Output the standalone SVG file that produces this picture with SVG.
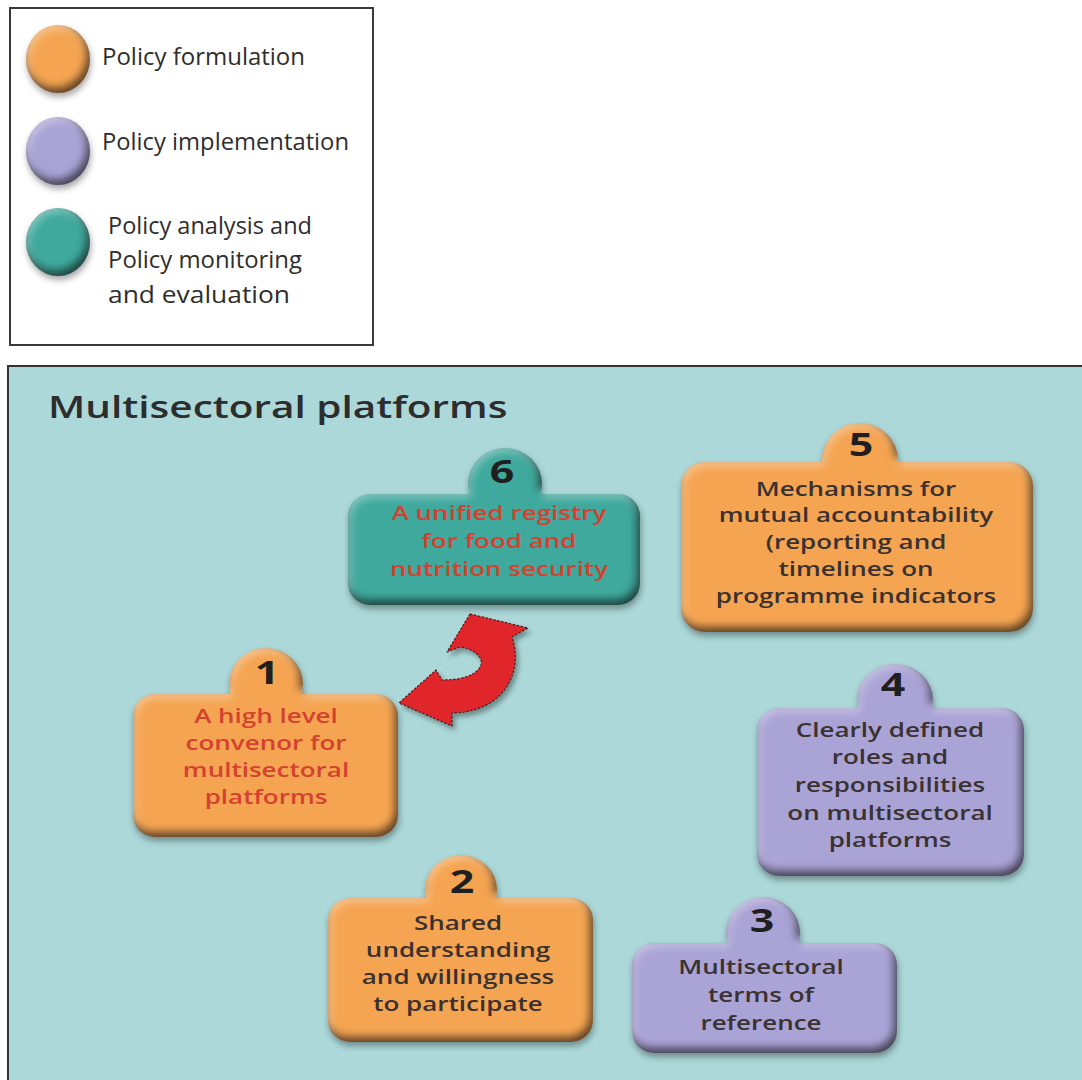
<svg xmlns="http://www.w3.org/2000/svg" width="1082" height="1080" viewBox="0 0 1082 1080">
  <defs>
    <style>
      .legend-text { font-family: "Open Sans", "Liberation Sans", sans-serif; font-size: 24px; font-weight: 500; fill: #2e2e2e; }
      .title { font-family: "Open Sans", "Liberation Sans", sans-serif; font-size: 30px; font-weight: 600; fill: #2d2d2d; }
      .num { font-family: "Open Sans", "Liberation Sans", sans-serif; font-size: 33px; font-weight: 700; fill: #1f1f1f; text-anchor: middle; }
      .lbl { font-family: "Open Sans", "Liberation Sans", sans-serif; font-size: 20px; font-weight: 600; fill: #3a3131; text-anchor: middle; }
      .lbl.red { fill: #d4412f; }
      .orange { fill: #f5a552; }
      .purple { fill: #aaa3d6; }
      .teal { fill: #3fa99d; }
    </style>
    <!-- soft 3D bevel: dark inner rim bottom/right, light rim top/left, drop shadow -->
    <filter id="bevel" x="-15%" y="-20%" width="135%" height="145%" color-interpolation-filters="sRGB">
      <feComponentTransfer in="SourceAlpha" result="inv">
        <feFuncA type="table" tableValues="1 0"/>
      </feComponentTransfer>
      <feGaussianBlur in="inv" stdDeviation="4" result="invBlur"/>
      <feOffset in="invBlur" dx="-3" dy="-5" result="shOff"/>
      <feFlood flood-color="#000000" flood-opacity="0.62" result="shCol"/>
      <feComposite in="shCol" in2="shOff" operator="in" result="sh"/>
      <feComposite in="sh" in2="SourceAlpha" operator="in" result="innerSh"/>
      <feOffset in="invBlur" dx="2" dy="3" result="hlOff"/>
      <feFlood flood-color="#ffffff" flood-opacity="0.45" result="hlCol"/>
      <feComposite in="hlCol" in2="hlOff" operator="in" result="hl"/>
      <feComposite in="hl" in2="SourceAlpha" operator="in" result="innerHl"/>
      <feGaussianBlur in="SourceAlpha" stdDeviation="3" result="dsBlur"/>
      <feOffset in="dsBlur" dx="1" dy="4" result="dsOff"/>
      <feFlood flood-color="#000000" flood-opacity="0.35" result="dsCol"/>
      <feComposite in="dsCol" in2="dsOff" operator="in" result="ds"/>
      <feMerge>
        <feMergeNode in="ds"/>
        <feMergeNode in="SourceGraphic"/>
        <feMergeNode in="innerHl"/>
        <feMergeNode in="innerSh"/>
      </feMerge>
    </filter>
    <filter id="arrowShadow" x="-20%" y="-20%" width="150%" height="150%">
      <feGaussianBlur in="SourceAlpha" stdDeviation="2.5" result="b"/>
      <feOffset in="b" dx="3" dy="4" result="o"/>
      <feFlood flood-color="#000000" flood-opacity="0.35"/>
      <feComposite in2="o" operator="in" result="s"/>
      <feMerge><feMergeNode in="s"/><feMergeNode in="SourceGraphic"/></feMerge>
    </filter>
  </defs>

  <rect width="1082" height="1080" fill="#ffffff"/>

  <!-- legend -->
  <g id="legend">
    <rect x="10" y="8" width="363" height="337" fill="#ffffff" stroke="#3a3a3a" stroke-width="2"/>
    <g filter="url(#bevel)">
      <ellipse class="orange" cx="58" cy="59" rx="32" ry="34"/>
      <ellipse class="purple" cx="58" cy="151" rx="32" ry="34"/>
      <ellipse class="teal" cx="58" cy="242" rx="32" ry="34"/>
    </g>
    <text class="legend-text" x="102" y="65" textLength="203" lengthAdjust="spacingAndGlyphs">Policy formulation</text>
    <text class="legend-text" x="102" y="150" textLength="247" lengthAdjust="spacingAndGlyphs">Policy implementation</text>
    <text class="legend-text" x="108" y="234" textLength="204" lengthAdjust="spacingAndGlyphs">Policy analysis and</text>
    <text class="legend-text" x="108" y="268" textLength="194" lengthAdjust="spacingAndGlyphs">Policy monitoring</text>
    <text class="legend-text" x="108" y="303" textLength="182" lengthAdjust="spacingAndGlyphs">and evaluation</text>
  </g>

  <!-- main panel -->
  <rect x="8" y="366" width="1090" height="730" fill="#acd8d9" stroke="#333333" stroke-width="2"/>
  <text class="title" transform="translate(48 418) scale(1.35 1)">Multisectoral platforms</text>

  <!-- connectors -->
  <g id="connectors">
    <path id="arrow-1-6" filter="url(#arrowShadow)" fill="#e0272a" stroke="#4a1e1e" stroke-width="1.2" stroke-dasharray="2.5 1.5" stroke-linejoin="round"
          d="M 470 614 L 528 628 L 512 637 C 520 660 514 688 490 703 C 478 710 465 713 452 713 L 452 726 L 399 703 L 436 670 L 442 680 C 460 680 477 676 481 665 C 484 656 471 648 460 647 L 447 652 Z"/>
  </g>

  <!-- node 6 -->
  <g id="node-6">
    <g filter="url(#bevel)" class="teal">
      <rect x="348" y="494" width="292" height="111" rx="22"/>
      <ellipse cx="505" cy="484" rx="37" ry="36"/>
    </g>
    <g transform="translate(502 0) scale(1.3 1)">
      <text class="num" x="0" y="483">6</text>
    </g>
    <g transform="translate(499 0) scale(1.3 1)">
      <text class="lbl red" x="0" y="520">A unified registry</text>
      <text class="lbl red" x="0" y="548">for food and</text>
      <text class="lbl red" x="0" y="576">nutrition security</text>
    </g>
  </g>

  <!-- node 5 -->
  <g id="node-5">
    <g filter="url(#bevel)" class="orange">
      <rect x="681" y="462" width="352" height="170" rx="24"/>
      <ellipse cx="860" cy="460" rx="38" ry="37"/>
    </g>
    <g transform="translate(861 0) scale(1.3 1)">
      <text class="num" x="0" y="456">5</text>
    </g>
    <g transform="translate(856 0) scale(1.3 1)">
      <text class="lbl" x="0" y="496">Mechanisms for</text>
      <text class="lbl" x="0" y="522">mutual accountability</text>
      <text class="lbl" x="0" y="549">(reporting and</text>
      <text class="lbl" x="0" y="576">timelines on</text>
      <text class="lbl" x="0" y="603">programme indicators</text>
    </g>
  </g>

  <!-- node 1 -->
  <g id="node-1">
    <g filter="url(#bevel)" class="orange">
      <rect x="133" y="694" width="265" height="143" rx="22"/>
      <ellipse cx="266" cy="684" rx="37" ry="36"/>
    </g>
    <g transform="translate(267 0) scale(1.3 1)">
      <text class="num" x="0" y="684">1</text>
    </g>
    <g transform="translate(266 0) scale(1.3 1)">
      <text class="lbl red" x="0" y="723">A high level</text>
      <text class="lbl red" x="0" y="750">convenor for</text>
      <text class="lbl red" x="0" y="777">multisectoral</text>
      <text class="lbl red" x="0" y="804">platforms</text>
    </g>
  </g>

  <!-- node 4 -->
  <g id="node-4">
    <g filter="url(#bevel)" class="purple">
      <rect x="757" y="708" width="267" height="168" rx="22"/>
      <ellipse cx="895" cy="700" rx="38" ry="36"/>
    </g>
    <g transform="translate(893 0) scale(1.3 1)">
      <text class="num" x="0" y="696">4</text>
    </g>
    <g transform="translate(890 0) scale(1.3 1)">
      <text class="lbl" x="0" y="737">Clearly defined</text>
      <text class="lbl" x="0" y="764">roles and</text>
      <text class="lbl" x="0" y="792">responsibilities</text>
      <text class="lbl" x="0" y="820">on multisectoral</text>
      <text class="lbl" x="0" y="847">platforms</text>
    </g>
  </g>

  <!-- node 2 -->
  <g id="node-2">
    <g filter="url(#bevel)" class="orange">
      <rect x="328" y="898" width="265" height="144" rx="22"/>
      <ellipse cx="461" cy="890" rx="36" ry="35"/>
    </g>
    <g transform="translate(462 0) scale(1.3 1)">
      <text class="num" x="0" y="893">2</text>
    </g>
    <g transform="translate(458 0) scale(1.3 1)">
      <text class="lbl" x="0" y="930">Shared</text>
      <text class="lbl" x="0" y="957">understanding</text>
      <text class="lbl" x="0" y="984">and willingness</text>
      <text class="lbl" x="0" y="1011">to participate</text>
    </g>
  </g>

  <!-- node 3 -->
  <g id="node-3">
    <g filter="url(#bevel)" class="purple">
      <rect x="632" y="943" width="265" height="110" rx="22"/>
      <ellipse cx="763" cy="933" rx="37" ry="36"/>
    </g>
    <g transform="translate(762 0) scale(1.3 1)">
      <text class="num" x="0" y="932">3</text>
    </g>
    <g transform="translate(761 0) scale(1.3 1)">
      <text class="lbl" x="0" y="974">Multisectoral</text>
      <text class="lbl" x="0" y="1002">terms of</text>
      <text class="lbl" x="0" y="1030">reference</text>
    </g>
  </g>
</svg>
